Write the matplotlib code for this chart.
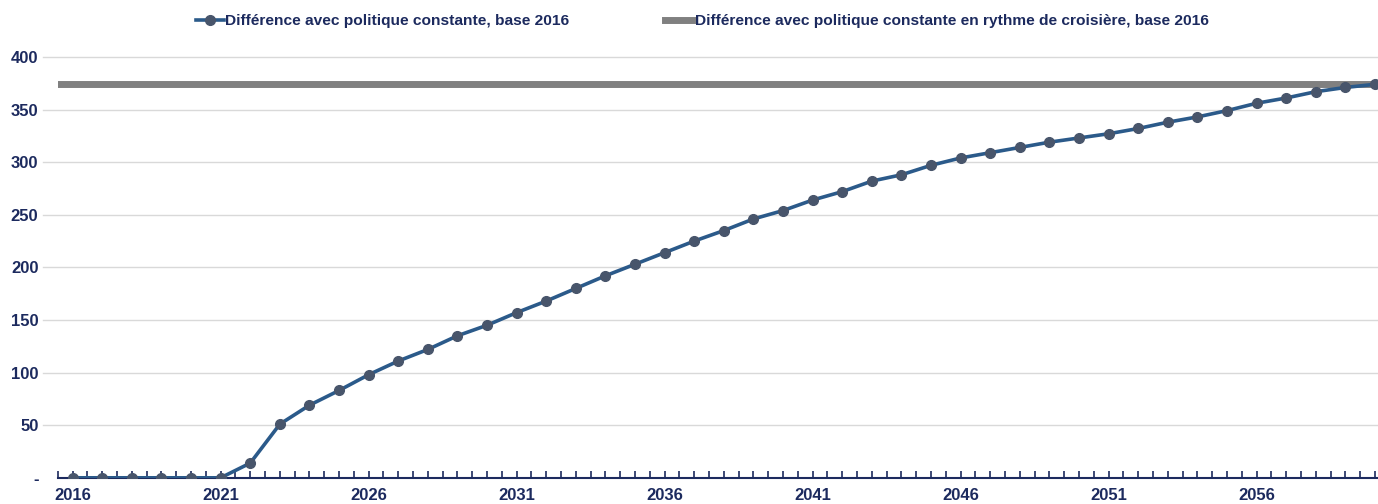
import numpy as np
import matplotlib
matplotlib.use('Agg')
from matplotlib import pyplot as plt
from matplotlib.ticker import MultipleLocator, FuncFormatter

years = list(range(2016, 2061))
diff_values = [0, 0, 0, 0, 0, 0, 14, 51, 69, 83,
               98, 111, 122, 135, 145, 157, 168, 180, 192, 203,
               214, 225, 235, 246, 254, 264, 272, 282, 288, 297,
               304, 309, 314, 319, 323, 327, 332, 338, 343, 349,
               356, 361, 367, 371, 374]
cruise_value = 374
y_ticks = [0, 50, 100, 150, 200, 250, 300, 350, 400]
x_ticks = [2016, 2021, 2026, 2031, 2036, 2041, 2046, 2051, 2056]

label_1 = 'Différence avec politique constante, base 2016'
label_2 = 'Différence avec politique constante en rythme de croisière, base 2016'

navy = '#1c2a5e'
plt.rcParams['font.family'] = ['Liberation Sans', 'DejaVu Sans']

fig = plt.figure(figsize=(13.78, 5.04), dpi=100)
ax = fig.add_axes([0.042, 0.052, 0.958, 0.835])

ax.plot(years, diff_values, '-', color='#2b5a8a', lw=2.6, marker='o', ms=7,
        mfc='#48556b', mec='#48556b', label=label_1, zorder=3)
ax.axhline(cruise_value, color='#808080', lw=5, label=label_2, zorder=2)

ax.set_xlim(2015.5, 2060.1)
ax.set_ylim(0, 400)
ax.set_yticks(y_ticks)
ax.yaxis.set_major_formatter(FuncFormatter(lambda v, p: '-' if v == 0 else f'{int(v)}'))
ax.set_xticks(x_ticks)
ax.xaxis.set_minor_locator(MultipleLocator(0.5))

# gridlines reach a bit left of the axis start, as in the source
for v in y_ticks[1:]:
    ax.plot([-0.011, 1], [v, v], color='#d9d9d9', lw=1, transform=ax.get_yaxis_transform(),
            clip_on=False, zorder=1)

for s in ['top', 'right', 'left']:
    ax.spines[s].set_visible(False)
ax.spines['bottom'].set_color(navy)
ax.spines['bottom'].set_linewidth(1.5)
ax.tick_params(axis='x', which='both', direction='in', color=navy, width=1.2,
               length=5, labelsize=12, labelcolor=navy, pad=7)
ax.tick_params(axis='y', length=0, labelsize=12, labelcolor=navy, pad=14)
for lbl in ax.get_xticklabels() + ax.get_yticklabels():
    lbl.set_fontweight('bold')

leg = ax.legend(loc='lower center', bbox_to_anchor=(0.488, 1.035), ncol=2, frameon=False,
                fontsize=11.15, handlelength=1.8, handletextpad=0.1, columnspacing=6.2)
for t in leg.get_texts():
    t.set_color(navy)
    t.set_fontweight('bold')

fig.savefig('out.png', dpi=100)
